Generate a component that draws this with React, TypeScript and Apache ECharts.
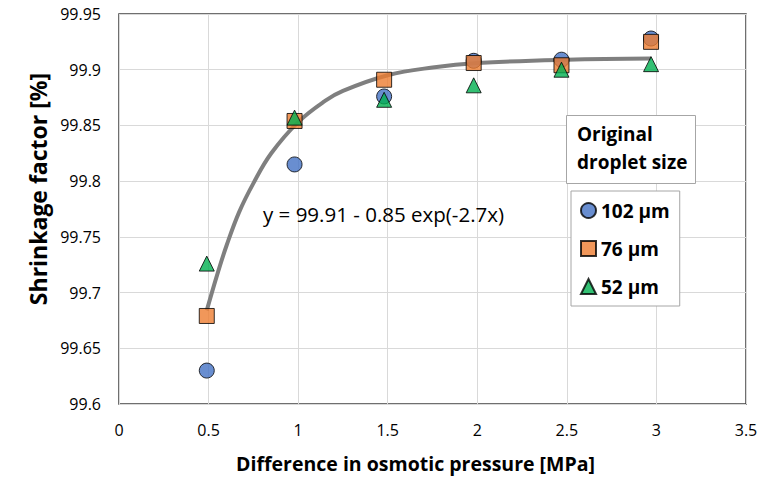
import React, { useEffect, useRef } from "react";
import * as echarts from "echarts";

const xValues = [0.49, 0.98, 1.48, 1.98, 2.47, 2.97];
const size102 = [99.63, 99.815, 99.876, 99.908, 99.909, 99.928];
const size76 = [99.679, 99.854, 99.891, 99.906, 99.904, 99.925];
const size52 = [99.726, 99.857, 99.873, 99.886, 99.9, 99.905];
const fitX = [0.49, 0.55, 0.6, 0.67, 0.75, 0.85, 1.0, 1.15, 1.25, 1.5, 1.75, 2.0, 2.5, 2.97];
const fitY = [99.684, 99.717, 99.742, 99.772, 99.798, 99.825, 99.853, 99.872, 99.881, 99.895, 99.902, 99.906, 99.909, 99.91];
const seriesNames = ["102 µm", "76 µm", "52 µm"];
const xTicks = { min: 0, max: 3.5, interval: 0.5 };
const yTicks = { min: 99.6, max: 99.95, interval: 0.05 };

const FONT = "'Open Sans', 'Liberation Sans', sans-serif";

export default function App() {
  const ref = useRef<HTMLDivElement>(null);
  useEffect(() => {
    const chart = echarts.init(ref.current!, null, { renderer: "svg" });
    const pairs = (ys: number[]) => xValues.map((x, i) => [x, ys[i]]);
    chart.setOption({
      animation: false,
      backgroundColor: "#fff",
      grid: {
        left: 119,
        top: 14,
        right: 35,
        bottom: 88,
        show: true,
        borderColor: "#404040",
        borderWidth: 1.5,
      },
      xAxis: {
        type: "value",
        min: xTicks.min,
        max: xTicks.max,
        interval: xTicks.interval,
        name: "Difference in osmotic pressure [MPa]",
        nameLocation: "middle",
        nameGap: 49,
        nameTextStyle: {
          fontFamily: FONT,
          fontSize: 19.5,
          fontWeight: "bold",
          color: "#000",
          padding: [0, 34, 0, 0],
        },
        axisLine: { show: false },
        axisTick: { show: false },
        axisLabel: {
          fontFamily: FONT,
          fontSize: 16,
          color: "#000",
          margin: 18,
          formatter: (v: number) => String(v),
        },
        splitLine: { show: true, lineStyle: { color: "#d9d9d9", width: 1 } },
      },
      yAxis: {
        type: "value",
        min: yTicks.min,
        max: yTicks.max,
        interval: yTicks.interval,
        name: "Shrinkage factor [%]",
        nameLocation: "middle",
        nameGap: 70,
        nameRotate: 90,
        nameTextStyle: {
          fontFamily: FONT,
          fontSize: 23,
          fontWeight: "bold",
          color: "#000",
          padding: [0, 0, 0, 40],
        },
        axisLine: { show: false },
        axisTick: { show: false },
        axisLabel: {
          fontFamily: FONT,
          fontSize: 16,
          color: "#000",
          margin: 18,
          formatter: (v: number) => String(parseFloat(v.toFixed(2))),
        },
        splitLine: { show: true, lineStyle: { color: "#d9d9d9", width: 1 } },
      },
      legend: {
        data: seriesNames,
        orient: "vertical",
        left: 571,
        top: 191,
        width: 108,
        padding: [10, 10, 10, 9],
        itemGap: 19,
        itemWidth: 15,
        itemHeight: 15,
        borderColor: "#a6a6a6",
        borderWidth: 1,
        backgroundColor: "#fff",
        textStyle: { fontFamily: FONT, fontSize: 19, fontWeight: "bold", color: "#000" },
        selectedMode: false,
      },
      graphic: [
        {
          type: "rect",
          left: 566,
          top: 115,
          shape: { width: 129, height: 68 },
          style: { fill: "#fff", stroke: "#a6a6a6", lineWidth: 1 },
          z: 10,
        },
        {
          type: "text",
          left: 577,
          top: 120,
          style: {
            text: "Original\ndroplet size",
            fontFamily: FONT,
            fontSize: 19,
            fontWeight: "bold",
            fill: "#000",
            lineHeight: 28,
          },
          z: 11,
        },
        {
          type: "text",
          left: 263,
          top: 203,
          style: {
            text: "y = 99.91 - 0.85 exp(-2.7x)",
            fontFamily: FONT,
            fontSize: 20.5,
            fill: "#000",
          },
          z: 11,
        },
      ],
      series: [
        {
          type: "line",
          name: "fit",
          data: fitX.map((x, i) => [x, fitY[i]]),
          smooth: 0.4,
          showSymbol: false,
          symbol: "none",
          lineStyle: { color: "#7f7f7f", width: 4 },
          z: 3,
        },
        {
          type: "scatter",
          name: seriesNames[0],
          data: pairs(size102),
          symbol: "circle",
          symbolSize: 15,
          itemStyle: { color: "#4472C4", borderColor: "#000", borderWidth: 1 },
          z: 4,
        },
        {
          type: "scatter",
          name: seriesNames[1],
          data: pairs(size76),
          symbol: "rect",
          symbolSize: 15,
          itemStyle: { color: "#ED7D31", borderColor: "#000", borderWidth: 1 },
          z: 5,
        },
        {
          type: "scatter",
          name: seriesNames[2],
          data: pairs(size52),
          symbol: "triangle",
          symbolSize: 15,
          itemStyle: { color: "#00B050", borderColor: "#000", borderWidth: 1 },
          z: 6,
        },
      ],
    });
    return () => chart.dispose();
  }, []);
  return (
    <div
      ref={ref}
      style={{ position: "fixed", left: 0, top: 0, width: 781, height: 492 }}
    />
  );
}
